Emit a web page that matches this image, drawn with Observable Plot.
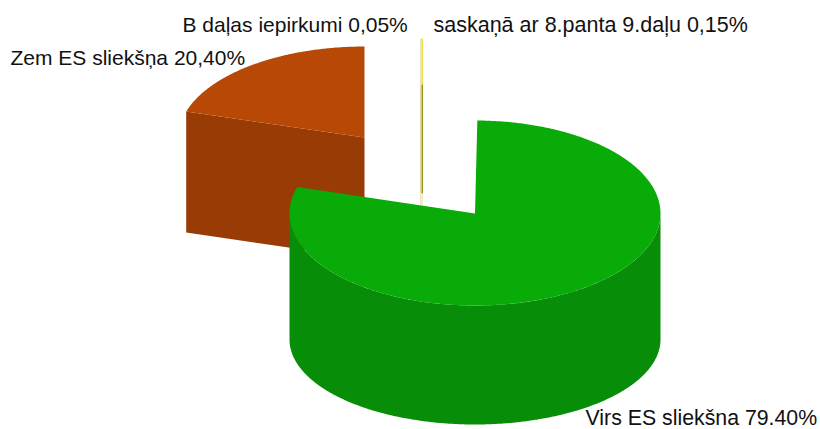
<!DOCTYPE html>
<html><head><meta charset="utf-8">
<script src="https://cdn.jsdelivr.net/npm/d3@7"></script>
<script src="https://cdn.jsdelivr.net/npm/@observablehq/plot@0.6"></script>
<style>html,body{margin:0;padding:0;background:#fff}svg{display:block}</style>
</head><body><div id="chart"></div>
<script>
// Data, in the pie's clockwise order from twelve o'clock
const categories = ["saskaņā", "Bdaļas", "Virs", "Zem"];
const shares = [0.15, 0.05, 79.40, 20.40];
const labels = ["saskaņā ar 8.panta 9.daļu 0,15%", "B daļas iepirkumi 0,05%", "Virs ES sliekšna 79.40%", "Zem ES sliekšņa 20,40%"];

// Drawing style and the 3D projection of each exploded slice
const topColors = ["#dfe5c4", "#f6d83c", "#08ab08", "#b84806"];
const sideColors = ["#dcdca8", "#8f8c08", "#078d07", "#983b05"];
const view = [
  {cx: 419.4, cy: 84, rx: 186, back: 46, front: 46, depth: 121, bottom: 46},
  {cx: 419.4, cy: 84, rx: 186, back: 46, front: 46, depth: 121, bottom: 46},
  {cx: 474.5, cy: 213, rx: 185.5, back: 93, front: 92, depth: 126, bottom: 85},
  {cx: 364, cy: 137, rx: 186, back: 91, front: 84, depth: 121, bottom: 85}
];
const labelAt = [[433, 25], [182, 25], [585, 417.5], [10, 58]];
const labelSizes = [21.5, 21, 21.3, 21];

const total = d3.sum(shares);
const ends = d3.cumsum(shares).map(v => v / total * 360);
const starts = ends.map((_, i) => i ? ends[i - 1] : 0);
const rad = d => d * Math.PI / 180;

function rim(v, deg, lower) {
  const c = Math.cos(rad(deg));
  return {
    x: v.cx + v.rx * Math.sin(rad(deg)),
    y: lower ? v.cy + v.depth - c * (c > 0 ? v.back : v.bottom)
             : v.cy - c * (c > 0 ? v.back : v.front)
  };
}
function arc(v, a0, a1, lower) {
  const n = Math.max(2, Math.ceil(Math.abs(a1 - a0) * 2));
  return d3.range(n + 1).map(i => rim(v, a0 + (a1 - a0) * i / n, lower));
}
const apex = v => ({x: v.cx, y: v.cy});

// Top face of a slice
function topFace(i) {
  const v = view[i];
  return [apex(v), ...arc(v, starts[i], ends[i], false), apex(v)];
}
// Green slice: the curved outer wall, between the two side extremes of the ellipse
const wall = (() => {
  const v = view[2];
  return [...arc(v, 90, 270, false), ...arc(v, 270, 90, true)];
})();
// Brown slice: the flat cut face that looks towards the viewer
const cut = (() => {
  const v = view[3], a = rim(v, starts[3], false);
  return [a, apex(v), {x: v.cx, y: v.cy + v.depth}, {x: a.x, y: a.y + v.depth}, a];
})();
// Thin slices are seen edge-on: bands as wide as their rim arc, running down the cut
function band(i, y1, y2) {
  const v = view[i], x1 = rim(v, starts[i]).x, x2 = Math.max(rim(v, ends[i]).x, x1 + 1.3);
  return [{x: x1, y: y1}, {x: x2, y: y1}, {x: x2, y: y2}, {x: x1, y: y2}];
}
const bandMarks = [0, 1].flatMap(i => {
  const v = view[i], top = v.cy - v.back, low = v.cy + v.depth;
  return [
    [band(i, top, v.cy), topColors[i]],
    [band(i, v.cy, low - 12), sideColors[i]],
    [band(i, low - 12, low), "#efe8c8"]
  ];
});
const face = (pts, color) => Plot.line(pts, {x: "x", y: "y", fill: color, stroke: "none"});

const labelRows = labels.map((text, i) => ({text, x: labelAt[i][0], y: labelAt[i][1], size: labelSizes[i]}));

const chart = Plot.plot({
  width: 820, height: 429,
  margin: 0,
  x: {domain: [0, 820], range: [0, 820], axis: null},
  y: {domain: [0, 429], range: [0, 429], axis: null},
  style: {background: "#fff"},
  marks: [
    face(cut, sideColors[3]),
    face(topFace(3), topColors[3]),
    ...bandMarks.map(([p, c]) => face(p, c)),
    face(wall, sideColors[2]),
    face(topFace(2), topColors[2]),
    ...labelRows.map(d => Plot.text([d], {
      x: "x", y: "y", text: "text", textAnchor: "start", lineAnchor: "middle",
      fontFamily: "Liberation Sans", fontSize: d.size, fill: "#111"
    }))
  ]
});
document.getElementById("chart").append(chart);
</script></body></html>
